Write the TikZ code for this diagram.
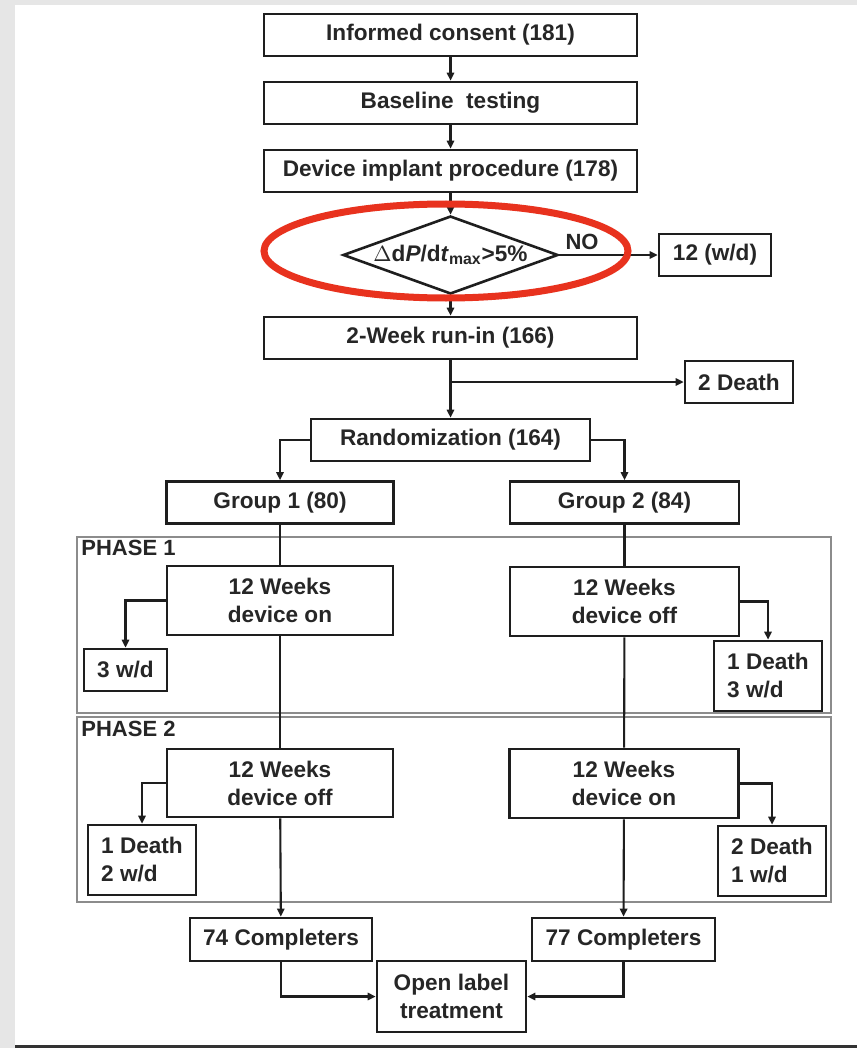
\documentclass[tikz,border=0pt]{standalone}
\usepackage{fontspec}
\setmainfont{Liberation Sans}
\usepackage{tikz}
\usetikzlibrary{arrows.meta}
\usetikzlibrary{shapes.geometric}
\usetikzlibrary{positioning}
\definecolor{ink}{HTML}{262626}
\definecolor{boxline}{HTML}{1E1E1E}
\definecolor{framegray}{HTML}{8C8C8C}
\definecolor{pagegray}{HTML}{E6E6E6}
\definecolor{edgegray}{HTML}{333333}
\definecolor{ringred}{HTML}{E8321E}
\tikzstyle{block} = [draw = boxline, line width = 1.3pt, rectangle, minimum height = 21pt, inner sep = 2pt, text = ink, align = center, font = \bfseries\fontsize{11.3}{14}\selectfont]
\tikzstyle{decision} = [draw = boxline, line width = 1.3pt, diamond, aspect = 2.76, minimum width = 107.5pt, minimum height = 39pt, inner sep = 0pt, text = ink, font = \bfseries\fontsize{11.3}{14}\selectfont]
\tikzstyle{arrow} = [draw = boxline, line width = 1.05pt, -{Triangle[length = 4pt, width = 3.6pt]}]
\tikzstyle{line} = [draw = boxline, line width = 1.05pt]
\tikzstyle{frame} = [draw = framegray, line width = 0.6pt]
\tikzstyle{phase} = [inner sep = 1pt, text = ink, font = \bfseries\fontsize{11}{13}\selectfont]
\begin{document}
\begin{tikzpicture}[x = 0.5pt, y = -0.5pt]

		% Page
		\fill[pagegray] (0,0) rectangle (857,1048);
		\fill[white] (15,5) rectangle (857,1045);
		\fill[edgegray] (15,1045) rectangle (857,1048);
		\useasboundingbox (0,0) rectangle (857,1048);

		% Phase frames
		\draw[frame] (77,537) rectangle (831,713);
		\draw[frame] (77,717) rectangle (831,902);
		\node[phase, anchor = north west] (ph1) at (79,538) {PHASE 1};
		\node[phase, anchor = north west] (ph2) at (79,719) {PHASE 2};

		% Screening column
		\node[block, minimum width = 186.5pt] (consent) at (450.5,35) {Informed consent (181)};
		\node[block, minimum width = 186.5pt, below = 11.7pt of consent] (baseline) {Baseline\ \ testing};
		\node[block, minimum width = 186.5pt, below = 11.7pt of baseline] (implant) {Device implant procedure (178)};
		\node[decision, below = 10.7pt of implant] (dpdt) {$\Delta$d\textit{P}/d\textit{t}\textsubscript{max}>5\%};
		\node[block, minimum width = 56pt, right = 49.2pt of dpdt] (wd12) {12 (w/d)};
		\node[phase] (no) at (582,242) {NO};
		\node[block, minimum width = 186.5pt, below = 10.2pt of dpdt] (runin) {2-Week run-in (166)};
		\node[block, minimum width = 54pt] (death2) at (739,382) {2 Death};
		\coordinate (split) at (runin.south |- death2);
		\node[block, minimum width = 139.5pt, below = 28.7pt of runin] (random) {Randomization (164)};

		% Groups
		\node[block, minimum width = 113.5pt] (grp1) at (280,502.5) {Group 1 (80)};
		\node[block, minimum width = 114.5pt] (grp2) at (624.5,502.5) {Group 2 (84)};

		% Phase 1
		\node[block, minimum width = 113pt, minimum height = 34.5pt] (onA) at (280,600.5) {12 Weeks\\device on};
		\node[block, minimum width = 41.5pt] (wd3) at (125.5,670) {3 w/d};
		\node[block, minimum width = 114.5pt, minimum height = 34.5pt] (offA) at (624.5,601.5) {12 Weeks\\device off};
		\node[block, minimum width = 54pt, minimum height = 35pt, align = left] (d1w3) at (768,676) {1 Death\\3 w/d};

		% Phase 2
		\node[block, minimum width = 113pt, minimum height = 34pt] (offB) at (280,783) {12 Weeks\\device off};
		\node[block, minimum width = 54pt, minimum height = 35pt, align = left] (d1w2) at (142,860) {1 Death\\2 w/d};
		\node[block, minimum width = 114.5pt, minimum height = 34.5pt] (onB) at (624,783.5) {12 Weeks\\device on};
		\node[block, minimum width = 54pt, minimum height = 35pt, align = left] (d2w1) at (772,861) {2 Death\\1 w/d};

		% Completers
		\node[block, minimum width = 91pt, minimum height = 21.5pt] (comp1) at (281,939.5) {74 Completers};
		\node[block, minimum width = 91.5pt, minimum height = 21.5pt] (comp2) at (623.5,939.5) {77 Completers};
		\node[block, minimum width = 74.5pt, minimum height = 35.5pt] (open) at (451.5,996.5) {Open label\\treatment};

		% Connect all nodes defined above
		\draw[arrow] (consent) -- (baseline);
		\draw[arrow] (baseline) -- (implant);
		\draw[arrow] (implant) -- (dpdt);
		\draw[arrow] (dpdt.east) -- (wd12);
		\draw[arrow] (dpdt.south) -- (runin);
		\draw[arrow] (runin) -- (random);
		\draw[arrow] (split) -- (death2);
		\draw[arrow] (random.west) -| (grp1.north);
		\draw[arrow] (random.east) -| (grp2.north);
		\draw[line] (grp1) -- (onA);
		\draw[line] (grp2) -- (offA);
		\draw[arrow] (onA.west) -| (wd3.north);
		\draw[arrow] (offA.east) -| (d1w3.north);
		\draw[line] (onA) -- (offB);
		\draw[line] (offA) -- (onB);
		\draw[arrow] (offB.west) -| (d1w2.north);
		\draw[arrow] (onB.east) -| (d2w1.north);
		\draw[arrow] (offB) -- (comp1);
		\draw[arrow] (onB) -- (comp2);
		\draw[arrow] (comp1.south) |- (open.west);
		\draw[arrow] (comp2.south) |- (open.east);

		% Highlight
		\draw[ringred, line width = 3.5pt] (446,251) ellipse [x radius = 91pt, y radius = 23.5pt];

	\end{tikzpicture}
\end{document}
